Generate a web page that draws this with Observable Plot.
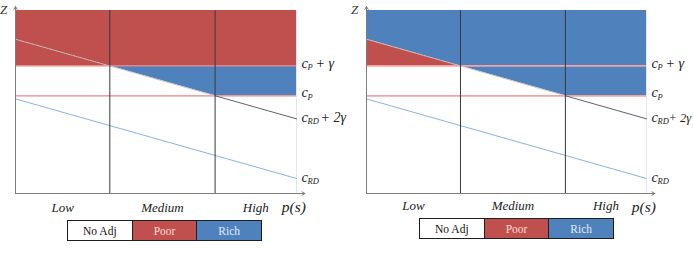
<!DOCTYPE html>
<html>
<head>
<meta charset="utf-8">
<script src="https://cdn.jsdelivr.net/npm/d3@7"></script>
<script src="https://cdn.jsdelivr.net/npm/@observablehq/plot@0.6"></script>
<style>
  body { margin: 0; background: #fff; }
  #wrap { position: relative; width: 693px; height: 254px; overflow: hidden; font-family: "Liberation Serif", "Times New Roman", serif; }
  .panel { position: absolute; top: 0; }
  .panel svg { overflow: visible; }
  .legend { position: absolute; display: flex; height: 21px; border: 1.5px solid #1e1e1e; box-sizing: border-box; }
  .legend div { flex: 1; display: flex; align-items: center; justify-content: center; font-size: 11.5px; }
  .legend div + div { border-left: 1.5px solid #1e1e1e; }
</style>
</head>
<body>
<div id="wrap"></div>
<script>
// Success-probability bands along the horizontal axis
const categories = ["Low", "Medium", "High"];
// Endpoints of the p(s) axis and the R&D cost line at those endpoints
const pEnds = [0, 1];
const cRD = [51.7, 8.2];
// Production cost and adjustment cost
const cP = 53.4;
const gamma = 16.3;
const zTop = 100;
// Legend entries
const legendLabels = ["No Adj", "Poor", "Rich"];
const legendFills = ["#ffffff", "#c0504d", "#4f81bd"];
const legendInk = ["#111111", "#f7dcdc", "#e3eaf5"];
// Right-hand line labels: c_sub + tail
const labelSubs = ["P", "P", "RD", "RD"];
const labelTails = ["+ \u03b3", "", "+ 2\u03b3", ""];

const RED = "#c0504d";
const BLUE = "#4f81bd";
const SERIF = "Liberation Serif";

// c_RD + 2γ as a function of p(s)
const upperAt = p => (cRD[0] + 2 * gamma) + ((cRD[1] + 2 * gamma) - (cRD[0] + 2 * gamma)) * p;
// where c_RD + 2γ crosses c_P + γ and c_P
const slope = (cRD[0] - cRD[1]);
const pA = (cRD[0] + 2 * gamma - (cP + gamma)) / slope;
const pB = (cRD[0] + 2 * gamma - cP) / slope;
const bounds = [0, pA, pB, 1];
const catCenters = categories.map((c, i) => ({name: c, p: (bounds[i] + bounds[i + 1]) / 2}));
const labelValues = [cP + gamma, cP, upperAt(1), cRD[1]];

function panel(kind, opts) {
  const fills = kind === "poor"
    ? [
        Plot.areaY([0, 1], {x: d => d, y1: () => cP + gamma, y2: () => zTop, fill: RED}),
        Plot.areaY([pA, pB, 1], {x: d => d, y1: d => Math.max(upperAt(d), cP), y2: () => cP + gamma, fill: BLUE})
      ]
    : [
        Plot.areaY([0, pA, pB, 1], {x: d => d, y1: d => Math.max(upperAt(d), cP), y2: () => zTop, fill: BLUE}),
        Plot.areaY([0, pA], {x: d => d, y1: () => cP + gamma, y2: d => upperAt(d), fill: RED})
      ];

  const labelMarks = [];
  labelValues.forEach((z, i) => {
    const rd = labelSubs[i] === "RD";
    const dy = rd ? -1.5 : -3;
    labelMarks.push(
      Plot.text([z], {x: () => 1, y: d => d, text: () => "c", dx: 5, dy, textAnchor: "start", fontSize: 14.5, fontStyle: "italic", fontFamily: SERIF, fill: "#222"}),
      Plot.text([z], {x: () => 1, y: d => d, text: () => labelSubs[i], dx: 11, dy: dy + 4, textAnchor: "start", fontSize: 8.5, fontStyle: "italic", fontFamily: SERIF, fill: "#222"})
    );
    if (labelTails[i]) {
      labelMarks.push(
        Plot.text([z], {x: () => 1, y: d => d, text: () => labelTails[i], dx: rd ? opts.rdTailDx : 19, dy: dy + 0.5, textAnchor: "start", fontSize: rd ? opts.rdTailSize : 14, fontStyle: "italic", fontFamily: SERIF, fill: "#222"})
      );
    }
  });

  return Plot.plot({
    width: opts.width,
    height: 214,
    marginLeft: opts.ml,
    marginRight: opts.mr,
    marginTop: 10,
    marginBottom: 21,
    x: {domain: [0, 1], axis: null},
    y: {domain: [0, zTop], axis: null},
    marks: [
      ...fills,
      // faint frame on the right edge
      Plot.ruleX([1], {y1: 0, y2: zTop, stroke: "#e2e7ee", strokeWidth: 1}),
      // c_RD
      Plot.line(pEnds.map((p, i) => ({p, z: cRD[i]})), {x: "p", y: "z", stroke: "#8db2df", strokeWidth: 1}),
      // c_P + γ and c_P
      Plot.ruleY([cP + gamma, cP], {x1: 0, x2: 1, stroke: opts.hline, strokeWidth: opts.hlineW}),
      // c_RD + 2γ: pale where it runs through the filled zone, dark beyond
      Plot.line([0, pB], {x: d => d, y: d => upperAt(d), stroke: "#c9c3c6", strokeWidth: 1, strokeDasharray: "1.5,1"}),
      Plot.line([pB, 1], {x: d => d, y: d => upperAt(d), stroke: "#5d6470", strokeWidth: 1}),
      // band boundaries
      Plot.ruleX([pA, pB], {y1: 0, y2: zTop, stroke: "#3a3a3a", strokeWidth: 1}),
      // axes with arrow heads
      Plot.arrow([{x1: 0, y1: 0, x2: 0, y2: zTop * 1.022}, {x1: 0, y1: 0, x2: 1.03, y2: 0}],
        {x1: "x1", y1: "y1", x2: "x2", y2: "y2", stroke: "#7d7d7d", strokeWidth: 1, headLength: 5}),
      Plot.text(["Z"], {x: () => 0, y: () => zTop, text: d => d, dx: -12, dy: -1, fontSize: 13, fontStyle: "italic", fontFamily: SERIF, fill: "#333"}),
      Plot.text(catCenters, {x: "p", y: () => 0, text: "name", dy: opts.catDy, fontSize: 13, fontStyle: "italic", fontFamily: SERIF, fill: "#222"}),
      Plot.text(["p(s)"], {x: () => 1.03, y: () => 0, text: d => d, dy: 14, dx: 1, textAnchor: "end", fontSize: 15.5, fontStyle: "italic", fontFamily: SERIF, fill: "#222"}),
      ...labelMarks
    ]
  });
}

function legend(left, top) {
  const box = document.createElement("div");
  box.className = "legend";
  box.style.left = left + "px";
  box.style.top = top + "px";
  box.style.width = "195px";
  legendLabels.forEach((t, i) => {
    const cell = document.createElement("div");
    cell.textContent = t;
    cell.style.background = legendFills[i];
    cell.style.color = legendInk[i];
    box.appendChild(cell);
  });
  return box;
}

const wrap = document.getElementById("wrap");
const left = document.createElement("div");
left.className = "panel";
left.style.left = "0px";
left.appendChild(panel("poor", {width: 346, ml: 15, mr: 50, hline: "#ec8585", hlineW: 1.2, catDy: 14, rdTailDx: 24, rdTailSize: 14}));
wrap.appendChild(left);

const right = document.createElement("div");
right.className = "panel";
right.style.left = "346px";
right.appendChild(panel("rich", {width: 347, ml: 20, mr: 47, hline: "#f3a3a3", hlineW: 1.8, catDy: 12.5, rdTailDx: 22, rdTailSize: 12.5}));
wrap.appendChild(right);

wrap.appendChild(legend(67, 220));
wrap.appendChild(legend(419, 218));
</script>
</body>
</html>
